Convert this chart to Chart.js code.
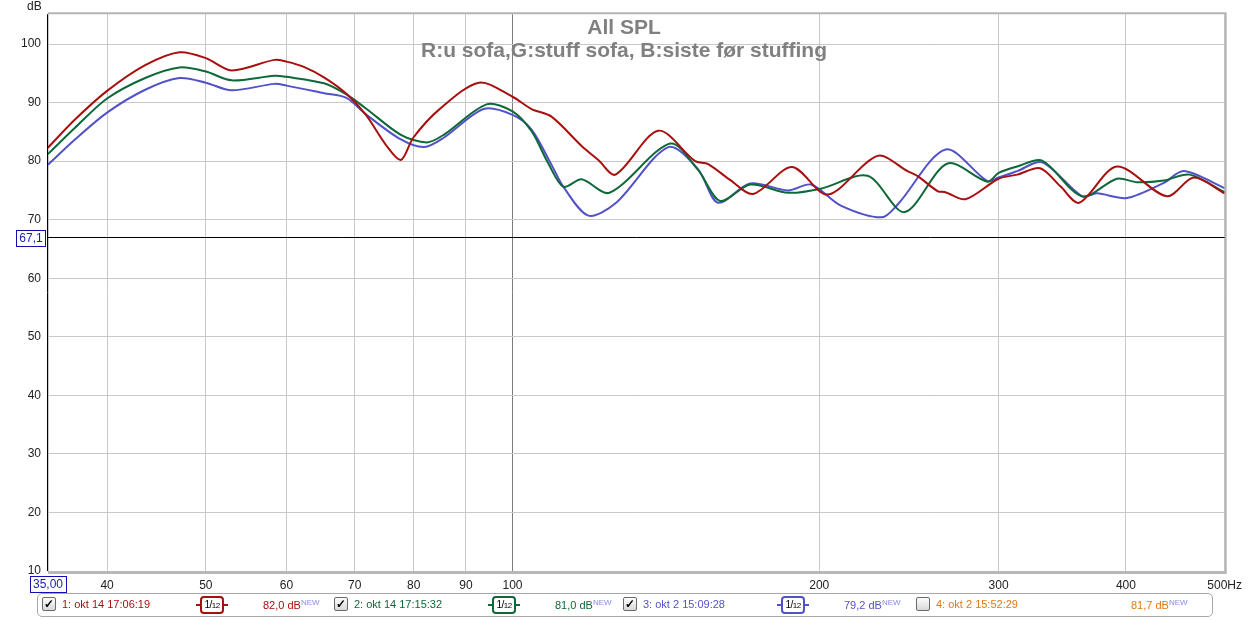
<!DOCTYPE html>
<html>
<head>
<meta charset="utf-8">
<script src="https://cdn.jsdelivr.net/npm/chart.js@4.4.0/dist/chart.umd.min.js"></script>
<style>
  body { margin: 0; background: #fff; font-family: "Liberation Sans", Arial, sans-serif; }
  #wrap { position: relative; width: 1249px; height: 620px; }
  #legend { position: absolute; left: 37px; top: 593px; width: 1176px; height: 24px;
            border: 1px solid #a8a8a8; border-radius: 5px; box-sizing: border-box; }
  .item { position: absolute; top: 0; height: 22px; font-size: 11px; white-space: nowrap; }
  .cb { position: absolute; top: 3px; left: 0; width: 12px; height: 12px; border: 1px solid #6a6a6a;
        border-radius: 2px; background: linear-gradient(#fdfdfd, #d8d8d8); font-size: 12px;
        line-height: 12px; text-align: center; color: #000; font-weight: bold; }
  .name { position: absolute; top: 4px; left: 20px; }
  .smooth { position: absolute; top: 2px; left: 154px; width: 32px; height: 18px; }
  .smooth .ln { position: absolute; left: 0; right: 0; top: 8px; height: 2px; }
  .smooth .bx { position: absolute; left: 4px; top: 0; width: 20px; height: 14px; border: 2px solid;
                border-radius: 4px; background: #fff; font-size: 10px; line-height: 14px; text-align: center;
                color: #000; letter-spacing: -0.5px; }
  .smooth .bx small { font-size: 8px; }
  .lvl { position: absolute; top: 4px; }
  .lvl sup { font-size: 8px; color: #8a8ae0; vertical-align: 4px; }
</style>
</head>
<body>
<div id="wrap">
  <canvas id="spl" width="1249" height="620"></canvas>
  <div id="legend"></div>
</div>
<script>
const xTicks = [35, 40, 50, 60, 70, 80, 90, 100, 200, 300, 400, 500];
const yTicks = [10, 20, 30, 40, 50, 60, 70, 80, 90, 100];
const cursorHz = 35.0;
const cursorDb = 67.1;

const redHz = [35, 37.2, 40, 43.6, 47.1, 50, 53, 58.4, 60, 62.4, 65.3, 68.7, 71.8, 75.1, 77.7, 79.9, 84.7, 92.7, 100,
  104.4, 109.2, 116.9, 121.4, 126.2, 139, 151.1, 155.6, 163.5, 172.3, 188, 203.9, 228.2, 244.2, 250, 261.3, 266,
  278.3, 300, 312.9, 329.5, 345, 359.8, 392, 438.8, 466.3, 500];
const redDb = [82.3, 87.1, 92.0, 96.4, 98.6, 97.6, 95.5, 97.3, 97.0, 96.1, 94.3, 91.5, 87.9, 82.8, 80.2, 84.0, 88.8, 93.4, 91.0,
  88.9, 87.6, 82.6, 80.2, 77.7, 85.2, 80.0, 79.5, 76.8, 74.4, 79.0, 74.3, 80.9, 78.3, 77.4, 74.9, 74.7,
  73.5, 77.0, 77.7, 78.8, 75.7, 72.9, 79.1, 74.0, 77.2, 74.5];

const greenHz = [35, 37.2, 40, 43.6, 47.1, 50, 53, 58.4, 60, 65.3, 68.7, 71.8, 77.7, 82.4, 85.6, 94.3, 100, 104.4,
  108.5, 112.2, 116.9, 124.5, 142.8, 152.1, 159.9, 171.1, 186.4, 200.7, 223.1, 242.6, 267.3, 292.5, 300, 312.9,
  331, 362.3, 392, 410.1, 435.9, 462.1, 500];
const greenDb = [81.2, 85.7, 90.7, 94.2, 96.0, 95.3, 93.8, 94.6, 94.4, 93.3, 91.4, 89.0, 84.5, 83.2, 84.5, 89.7, 88.5, 85.1,
  79.5, 75.6, 76.9, 74.6, 83.0, 78.5, 73.2, 76.0, 74.6, 75.3, 77.5, 71.3, 79.6, 76.5, 78.0, 79.1,
  80.1, 74.0, 77.0, 76.4, 76.7, 77.7, 74.7];

const blueHz = [35, 37.2, 40, 43.6, 47.1, 50, 53, 58.4, 60, 65.3, 68.7, 71.8, 77.7, 81.9, 85.6, 93.7, 100, 104.4,
  109.2, 112.2, 118.7, 126.2, 142.2, 152.1, 159.1, 171.1, 186.4, 196.3, 210, 230.3, 238.8, 266.1, 292.5, 300,
  312.9, 331, 362.3, 374.7, 400.9, 435.9, 455.9, 500];
const blueDb = [79.4, 83.7, 88.3, 92.2, 94.2, 93.4, 92.1, 93.2, 92.9, 91.6, 90.8, 88.0, 83.7, 82.4, 84.0, 88.9, 87.9, 85.4,
  79.4, 75.6, 70.7, 72.8, 82.4, 78.6, 72.9, 76.2, 75.0, 76.0, 72.4, 70.4, 72.6, 82.0, 76.6, 77.2,
  78.3, 79.8, 74.0, 74.5, 73.7, 76.3, 78.3, 75.4];

const traceNames = ["1: okt 14 17:06:19", "2: okt 14 17:15:32", "3: okt 2 15:09:28", "4: okt 2 15:52:29"];
const traceLevels = ["82,0", "81,0", "79,2", "81,7"];
const traceShown = [true, true, true, false];
const traceColors = ["#a80f0f", "#0e6838", "#5252c8", "#e07a10"];
const legendLeft = [4, 296, 585, 878];
const levelLeft = [221, 221, 221, 215];

const font = "'Liberation Sans', Arial, sans-serif";

function pts(hz, db) {
  return hz.map((f, i) => ({ x: f, y: db[i] }));
}

function trace(hz, db, color) {
  return {
    data: pts(hz, db),
    borderColor: color,
    borderWidth: 2,
    pointRadius: 0,
    fill: false,
    tension: 0.3
  };
}

function blueBox(ctx, text, cx, cy) {
  ctx.font = "12px " + font;
  const w = ctx.measureText(text).width + 6;
  ctx.fillStyle = "#fff";
  ctx.fillRect(cx - w / 2, cy - 8, w, 16);
  ctx.strokeStyle = "#1010b0";
  ctx.lineWidth = 1;
  ctx.strokeRect(Math.round(cx - w / 2) + 0.5, Math.round(cy - 8) + 0.5, Math.round(w), 16);
  ctx.fillStyle = "#1a1ab8";
  ctx.textAlign = "center";
  ctx.textBaseline = "middle";
  ctx.fillText(text, cx, cy + 1);
}

const frame = {
  id: "frame",
  afterDraw(chart) {
    const { ctx, chartArea: a, scales } = chart;
    ctx.save();
    ctx.strokeStyle = "#b4b4b4";
    ctx.lineWidth = 2;
    ctx.beginPath();
    ctx.moveTo(a.left, a.top - 1);
    ctx.lineTo(a.right + 1, a.top - 1);
    ctx.lineTo(a.right + 1, a.bottom + 2);
    ctx.stroke();
    ctx.fillStyle = "#b8b8b8";
    ctx.fillRect(a.left, a.bottom, a.right - a.left + 2, 3);

    ctx.strokeStyle = "#000";
    ctx.lineWidth = 1;
    ctx.beginPath();
    ctx.moveTo(a.left - 0.5, a.top);
    ctx.lineTo(a.left - 0.5, a.bottom);
    ctx.stroke();

    const cy = Math.round(scales.y.getPixelForValue(cursorDb)) + 0.5;
    ctx.beginPath();
    ctx.moveTo(a.left, cy);
    ctx.lineTo(a.right, cy);
    ctx.stroke();

    blueBox(ctx, cursorDb.toFixed(1).replace(".", ","), 31, cy);
    blueBox(ctx, cursorHz.toFixed(2).replace(".", ","), scales.x.getPixelForValue(cursorHz), 584);

    ctx.fillStyle = "#222";
    ctx.font = "12px " + font;
    ctx.textAlign = "left";
    ctx.textBaseline = "alphabetic";
    ctx.fillText("dB", 27, 10);

    ctx.fillStyle = "#808080";
    ctx.font = "bold 21px " + font;
    ctx.textAlign = "center";
    ctx.fillText("All SPL", 624, 34);
    ctx.fillText("R:u sofa,G:stuff sofa, B:siste før stuffing", 624, 57);
    ctx.restore();
  }
};

new Chart(document.getElementById("spl"), {
  type: "line",
  data: {
    datasets: [
      trace(redHz, redDb, traceColors[0]),
      trace(greenHz, greenDb, traceColors[1]),
      trace(blueHz, blueDb, traceColors[2])
    ]
  },
  options: {
    responsive: false,
    animation: false,
    devicePixelRatio: 1,
    layout: { padding: { top: 14, right: 22, left: 0, bottom: 0 } },
    plugins: { legend: { display: false }, tooltip: { enabled: false } },
    scales: {
      x: {
        type: "logarithmic",
        min: 35,
        max: 500,
        afterBuildTicks: s => { s.ticks = xTicks.map(v => ({ value: v })); },
        afterFit: s => { s.height = 49; },
        border: { display: false },
        grid: {
          color: c => (c.tick && c.tick.value === 100 ? "#7c7c7c" : "#c8c8c8"),
          drawTicks: false
        },
        ticks: {
          autoSkip: false,
          maxRotation: 0,
          padding: 7,
          color: "#222",
          font: { family: font, size: 12 },
          callback: v => (v === 35 ? "" : v === 500 ? "500Hz" : String(v))
        }
      },
      y: {
        min: 10,
        max: 105.1,
        afterBuildTicks: s => { s.ticks = yTicks.map(v => ({ value: v })); },
        afterFit: s => { s.width = 48; },
        border: { display: false },
        grid: { color: "#c8c8c8", drawTicks: false },
        ticks: {
          padding: 7,
          color: "#222",
          font: { family: font, size: 12 }
        }
      }
    }
  },
  plugins: [frame]
});

const legend = document.getElementById("legend");
traceNames.forEach((name, i) => {
  const item = document.createElement("div");
  item.className = "item";
  item.style.left = legendLeft[i] + "px";
  item.style.color = traceColors[i];
  let html = '<div class="cb">' + (traceShown[i] ? "&#10003;" : "") + "</div>" +
    '<div class="name">' + name + "</div>";
  if (traceShown[i]) {
    html += '<div class="smooth"><div class="ln" style="background:' + traceColors[i] + '"></div>' +
      '<div class="bx" style="border-color:' + traceColors[i] + '">1/<small>12</small></div></div>';
  }
  html += '<div class="lvl" style="left:' + levelLeft[i] + 'px">' + traceLevels[i] + " dB<sup>NEW</sup></div>";
  item.innerHTML = html;
  legend.appendChild(item);
});
</script>
</body>
</html>
